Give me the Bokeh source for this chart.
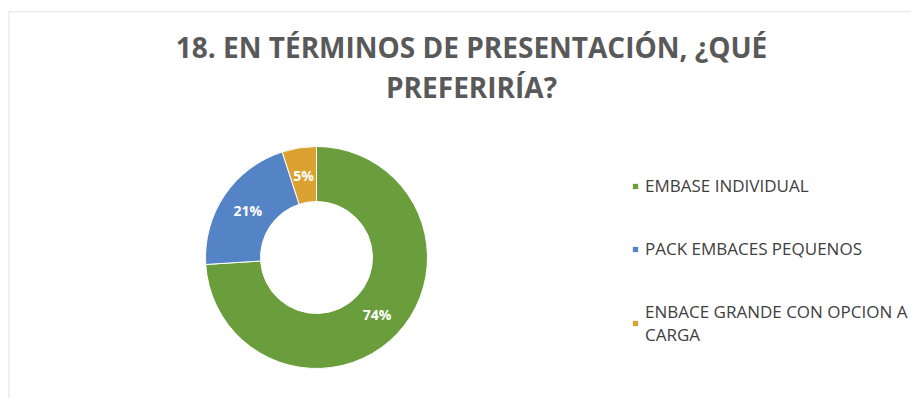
import numpy as np
from bokeh.plotting import figure
from bokeh.models import Range1d, ColumnDataSource, Legend, LegendItem, Label, Span
from bokeh.core.properties import value
from bokeh.embed import file_html
from bokeh.resources import INLINE

categories = ["EMBASE INDIVIDUAL", "PACK EMBACES PEQUENOS", "ENBACE GRANDE CON OPCION A CARGA"]
legend_labels = ["EMBASE INDIVIDUAL", "PACK EMBACES PEQUENOS", "ENBACE GRANDE CON OPCION A\nCARGA"]
percentages = [74, 21, 5]
colors = ["#6A9E3C", "#5584C6", "#DBA231"]
title_lines = ["18. EN TÉRMINOS DE PRESENTACIÓN, ¿QUÉ", "PREFERIRÍA?"]

vals = np.array(percentages, dtype=float)
frac = vals / vals.sum()
cum = np.concatenate([[0.0], np.cumsum(frac)])
end_a = np.pi / 2 - cum[:-1] * 2 * np.pi
start_a = np.pi / 2 - cum[1:] * 2 * np.pi
mid_a = (start_a + end_a) / 2

R_OUT, R_IN, R_LAB = 111, 56, 83
src = ColumnDataSource(dict(
    cat=categories, start=start_a, end=end_a, color=colors,
    lx=R_LAB * np.cos(mid_a), ly=R_LAB * np.sin(mid_a),
    txt=[f"{v}%" for v in percentages],
))

X0, X1, Y0, Y1 = -308, 595, -141, 246
p = figure(width=911, height=398, x_range=Range1d(X0, X1), y_range=Range1d(Y0, Y1),
           output_backend="svg", toolbar_location=None,
           min_border_left=8, min_border_top=11, min_border_right=0, min_border_bottom=0)
p.axis.visible = False
p.xgrid.visible = False
p.ygrid.visible = False
p.outline_line_color = None
p.background_fill_color = "white"
p.border_fill_color = "white"
p.add_layout(Span(location=Y1, dimension="width", line_color="#D9D9D9", line_width=1.5))
p.add_layout(Span(location=X0, dimension="height", line_color="#D9D9D9", line_width=1.5))

wr = p.annular_wedge(x=0, y=0, inner_radius=R_IN, outer_radius=R_OUT,
                     start_angle="start", end_angle="end", direction="anticlock",
                     fill_color="color", line_color="white", line_width=1, source=src)

p.text(x="lx", y="ly", text="txt", source=src, text_color="white",
       text_font=value("Open Sans"), text_font_style="bold", text_font_size="14px",
       text_align="center", text_baseline="middle")

for i, line in enumerate(title_lines):
    p.add_layout(Label(x=463, y=352 - i * 40, x_units="screen", y_units="screen",
                       text=line, text_align="center", text_baseline="middle",
                       text_font="Open Sans", text_font_style="bold",
                       text_font_size="28px", text_color="#595959"))

items = [LegendItem(label=lab, renderers=[wr], index=i) for i, lab in enumerate(legend_labels)]
legend = Legend(items=items, location=(623, 52), glyph_width=8, glyph_height=8,
                label_standoff=6, spacing=40, padding=0, margin=0,
                border_line_alpha=0, background_fill_alpha=0,
                label_text_font="Open Sans", label_text_font_size="17px",
                label_text_line_height=1.6,
                label_text_color="#404040")
p.add_layout(legend, "center")

open("out.html", "w").write(file_html(p, INLINE))
